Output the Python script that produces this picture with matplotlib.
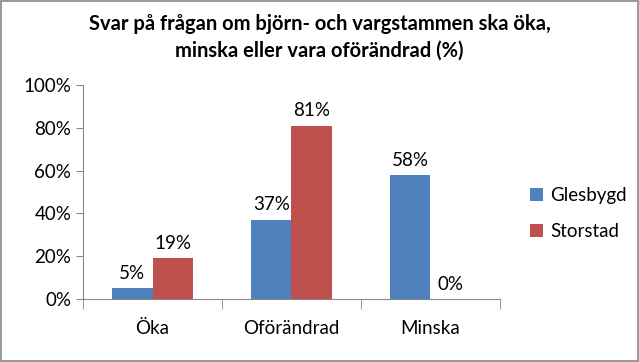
import numpy as np
import matplotlib.pyplot as plt
from matplotlib.patches import Rectangle

categories = ['Öka', 'Oförändrad', 'Minska']
glesbygd = [5, 37, 58]
storstad = [19, 81, 0]
series_names = ['Glesbygd', 'Storstad']
colors = ['#4F81BD', '#C0504D']
yticks = [0, 20, 40, 60, 80, 100]

plt.rcParams['font.family'] = ['Lato', 'DejaVu Sans']

fig = plt.figure(figsize=(6.39, 3.62), dpi=100)
fig.patches.append(Rectangle((0.002, 0.003), 0.996, 0.994, transform=fig.transFigure,
                             fill=False, edgecolor='#888888', lw=1.2))
ax = fig.add_axes([0.130, 0.174, 0.652, 0.591])

x = np.arange(len(categories))
w = 0.29
b1 = ax.bar(x - w/2, glesbygd, w, color=colors[0], label=series_names[0])
b2 = ax.bar(x + w/2, storstad, w, color=colors[1], label=series_names[1])
for bars, vals in ((b1, glesbygd), (b2, storstad)):
    for r, v in zip(bars, vals):
        ax.text(r.get_x() + r.get_width()/2, v + 3, f'{v}%', ha='center', va='bottom', fontsize=13.5)

ax.set_xlim(-0.5, 2.5)
ax.set_ylim(0, 100)
ax.set_yticks(yticks)
ax.set_yticklabels([f'{t}%' for t in yticks], fontsize=13.5)
ax.set_xticks(x)
ax.set_xticklabels(categories, fontsize=13.5)
ax.tick_params(axis='x', length=0, pad=15)
ax.set_xticks([-0.5, 0.5, 1.5, 2.5], minor=True)
ax.tick_params(axis='x', which='minor', length=7, color='#888888')
ax.tick_params(axis='y', length=5, color='#888888')
for s in ['top', 'right']:
    ax.spines[s].set_visible(False)
for s in ['left', 'bottom']:
    ax.spines[s].set_color('#888888')

fig.text(0.5, 0.897, 'Svar på frågan om björn- och vargstammen ska öka,\nminska eller vara oförändrad (%)',
         ha='center', va='center', fontsize=14.5, fontweight='bold', linespacing=1.45)

fig.legend(handles=[b1, b2], loc='center left', bbox_to_anchor=(0.803, 0.41), frameon=False,
           fontsize=13.5, handlelength=0.7, handleheight=0.7, labelspacing=1.0, handletextpad=0.4)

fig.savefig('out.png', dpi=100)
